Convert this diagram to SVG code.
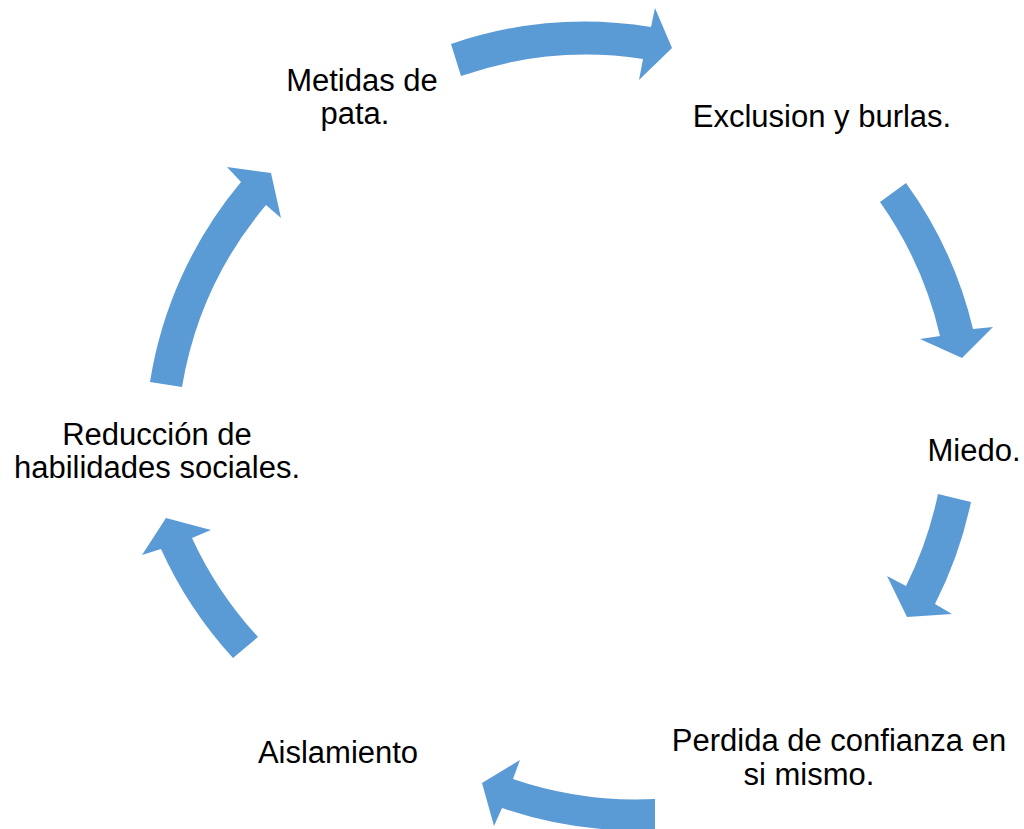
<svg xmlns="http://www.w3.org/2000/svg" width="1024" height="829" viewBox="0 0 1024 829">
<style>
.arrow{fill:#5B9BD5;stroke:none}
.lbl{font-family:"Liberation Sans",Arial,sans-serif;font-size:31px;fill:#000;text-anchor:middle}
</style>
<rect width="1024" height="829" fill="#fff"/>
<g id="connectors">
<path class="arrow" d="M451,44 A412,412 0 0 1 651,27 L655,8 L672,48 L639,80 L643,59 A380,380 0 0 0 461,76 Z"/>
<path class="arrow" d="M906,183 A412,412 0 0 1 973,329 L993,327 L962,358 L920,339 L940,336 A380,380 0 0 0 880,202 Z"/>
<path class="arrow" d="M971,502 A412,412 0 0 1 935,604 L952,614 L907,617 L887,576 L906,586 A380,380 0 0 0 938,494 Z"/>
<path class="arrow" d="M655,830 A412,412 0 0 1 502,808 L494,826 L482,783 L520,760 L513,779 A380,380 0 0 0 655,799 Z"/>
<path class="arrow" d="M233,658 A412,412 0 0 1 161,549 L142,555 L166,518 L211,530 L192,538 A380,380 0 0 0 258,637 Z"/>
<path class="arrow" d="M150,382 A412,412 0 0 1 241,182 L227,167 L271,173 L281,218 L266,205 A380,380 0 0 0 182,387 Z"/>
</g>
<g id="node-metidas"><text class="lbl" x="362" y="91">Metidas de</text><text class="lbl" x="355" y="124">pata.</text></g>
<g id="node-exclusion"><text class="lbl" x="822" y="127">Exclusion y burlas.</text></g>
<g id="node-miedo"><text class="lbl" x="974" y="461">Miedo.</text></g>
<g id="node-perdida"><text class="lbl" x="839" y="751">Perdida de confianza en</text><text class="lbl" x="809" y="785">si mismo.</text></g>
<g id="node-aislamiento"><text class="lbl" x="338" y="763">Aislamiento</text></g>
<g id="node-reduccion"><text class="lbl" x="157" y="445">Reducción de</text><text class="lbl" x="157" y="478">habilidades sociales.</text></g>
</svg>
